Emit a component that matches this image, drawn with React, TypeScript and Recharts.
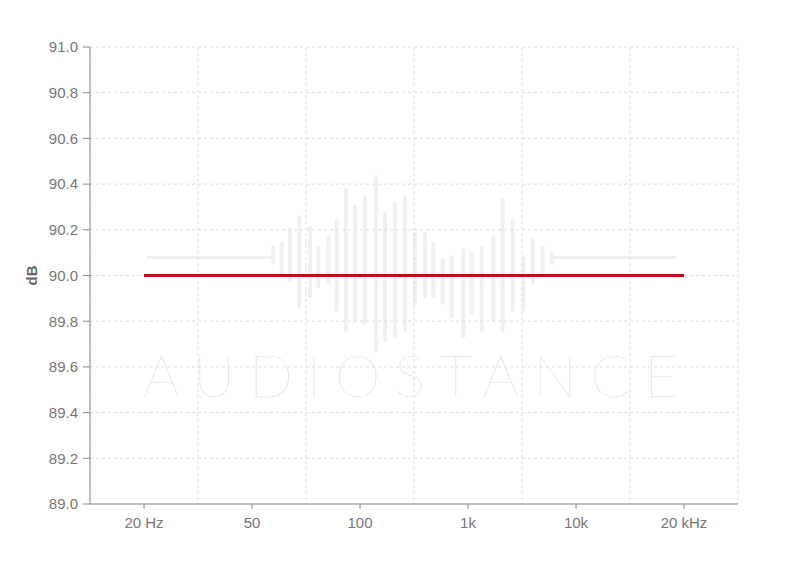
import React from 'react';
import { LineChart, Line, XAxis, YAxis, CartesianGrid } from 'recharts';

const freqLabels = ['20 Hz', '50', '100', '1k', '10k', '20 kHz'];
const freqIndex = [0, 1, 2, 3, 4, 5];
const dbValues = [90.0, 90.0, 90.0, 90.0, 90.0, 90.0];
const yTicks = [89.0, 89.2, 89.4, 89.6, 89.8, 90.0, 90.2, 90.4, 90.6, 90.8, 91.0];
const gridTicks = [-0.5, 0.5, 1.5, 2.5, 3.5, 4.5, 5.5];

const data = freqIndex.map((i) => ({ i, label: freqLabels[i], db: dbValues[i] }));

// decorative watermark waveform (zoomed-pixel estimates: x, top, bottom)
const waveBars: [number, number, number][] = [
  [40, 240, 300], [65, 230, 330], [90, 190, 350], [118, 150, 430], [150, 180, 400],
  [175, 240, 370], [205, 210, 360], [230, 160, 440], [258, 70, 500], [285, 120, 470],
  [315, 90, 480], [348, 30, 560], [375, 140, 530], [405, 110, 520], [435, 90, 500],
  [465, 200, 420], [495, 200, 400], [520, 230, 400], [548, 280, 420], [575, 270, 460],
  [610, 250, 520], [635, 260, 450], [665, 240, 500], [700, 210, 470], [728, 100, 500],
  [758, 160, 440], [790, 270, 440], [818, 220, 360], [848, 240, 330], [875, 260, 300],
];

const axisColor = '#888888';
const textColor = '#777777';
const gridColor = '#dddddd';
const font = '"Liberation Sans", Arial, sans-serif';

function Watermark() {
  return (
    <svg width={800} height={569} style={{ position: 'absolute', left: 0, top: 0 }}>
      <rect x={147} y={256} width={125} height={3} fill="#f0f0f0" />
      <rect x={553} y={256} width={123} height={3} fill="#f0f0f0" />
      {waveBars.map(([zx, zt, zb], k) => (
        <rect
          key={k}
          x={260 + zx / 3 - 2}
          y={165 + zt / 3}
          width={4}
          height={(zb - zt) / 3}
          rx={2}
          fill="#f0f0f0"
        />
      ))}
      <text
        x={143}
        y={397}
        textLength={535}
        lengthAdjust="spacing"
        fontFamily="Lato, 'DejaVu Sans', sans-serif"
        fontWeight={100}
        fontSize={58}
        fill="#e0e0e0"
      >
        AUDIOSTANCE
      </text>
    </svg>
  );
}

export default function App() {
  return (
    <div style={{ position: 'absolute', left: 0, top: 0, width: 800, height: 569, background: '#fff' }}>
      <Watermark />
      <div style={{ position: 'absolute', left: 0, top: 0 }}>
        <LineChart
          width={800}
          height={569}
          data={data}
          margin={{ top: 47, right: 62, bottom: 35, left: 0 }}
        >
          <CartesianGrid
            xAxisId="grid"
            stroke={gridColor}
            strokeDasharray="3 3"
          />
          <XAxis
            xAxisId="grid"
            type="number"
            dataKey="i"
            domain={[-0.5, 5.5]}
            ticks={gridTicks}
            hide
          />
          <XAxis
            dataKey="i"
            type="number"
            domain={[-0.5, 5.5]}
            ticks={freqIndex}
            tickFormatter={(v: number) => freqLabels[v]}
            height={30}
            tickSize={5}
            tickMargin={8}
            stroke={axisColor}
            tick={{ fill: textColor, fontSize: 15, fontFamily: font }}
            interval={0}
          />
          <YAxis
            domain={[89, 91]}
            ticks={yTicks}
            width={90}
            tickSize={7}
            tickMargin={5}
            tickFormatter={(v: number) => v.toFixed(1)}
            stroke={axisColor}
            tick={{ fill: textColor, fontSize: 15, fontFamily: font }}
            interval={0}
            label={{
              value: 'dB',
              angle: -90,
              position: 'insideLeft',
              offset: 32,
              style: { fill: '#666666', fontSize: 15, fontWeight: 'bold', fontFamily: font, textAnchor: 'middle' },
            }}
          />
          <Line
            dataKey="db"
            stroke="#b5121b"
            strokeWidth={3}
            dot={false}
            activeDot={false}
            isAnimationActive={false}
          />
        </LineChart>
      </div>
    </div>
  );
}
